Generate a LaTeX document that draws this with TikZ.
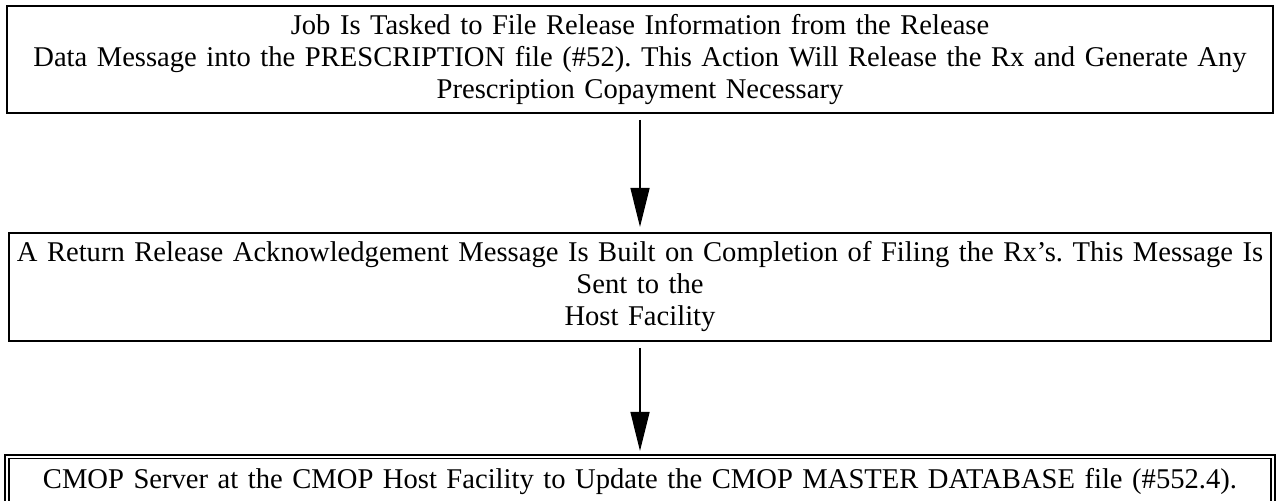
\documentclass[tikz,border=0pt]{standalone}
\usepackage{fontspec}
\setmainfont{Liberation Serif}
\usetikzlibrary{positioning}
\usetikzlibrary{arrows.meta}

\begin{document}
\begin{tikzpicture}[>={Triangle[width=9.5pt,length=19.5pt]},shorten >=2.5pt,shorten <=3pt,
	line width=0.65pt,box node/.style={draw,line width=1pt,inner xsep=0pt,inner ysep=0pt,
	text width=630pt,minimum width=633pt,minimum height=53.5pt,align=center,
	font=\fontsize{14.3}{16}\selectfont\frenchspacing}]
	
	\useasboundingbox (0,0) rectangle (639pt,-250.5pt);
	
	\node[box node] (task) at (320pt,-29.75pt) {Job Is Tasked to File Release Information from the Release\\
		Data Message into the PRESCRIPTION file (\#52). This Action Will Release the Rx and Generate Any\\
		Prescription Copayment Necessary};
	\node[box node,text width=628pt,minimum width=631pt,minimum height=54pt] (ack) [below=59pt of task] {A Return Release Acknowledgement Message Is Built on Completion of Filing the Rx’s. This Message Is\\
		Sent to the\\
		Host Facility};
	\node[box node,double,line width=0.8pt,double distance=1pt,minimum height=25pt] (cmop) [below=57pt of ack] {CMOP Server at the CMOP Host Facility to Update the CMOP MASTER DATABASE file (\#552.4).};
	
	\path[->]
	(task) edge (ack)
	(ack) edge (cmop);
\end{tikzpicture}
\end{document}
